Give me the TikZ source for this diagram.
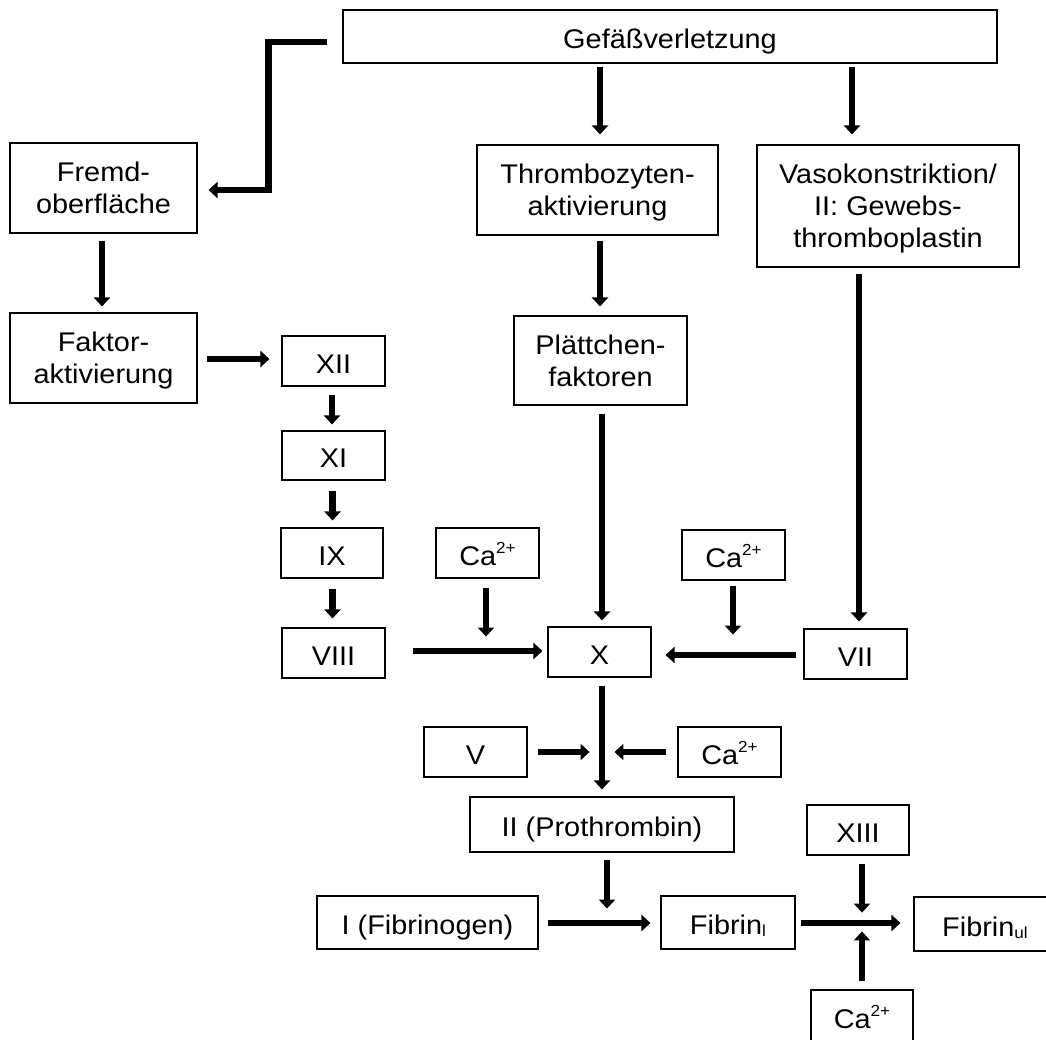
\documentclass[tikz,border=0pt]{standalone}
\usepackage{fontspec}
\setmainfont{Liberation Sans}[FakeStretch=1.07]
\usetikzlibrary{arrows.meta,calc}
\newcommand\supca{\raisebox{0.42em}{\fontsize{16}{16}\selectfont 2+}}
\newcommand\subsc[1]{\raisebox{-0.08em}{\fontsize{16}{16}\selectfont #1}}
\newcommand\nodp[1]{\raisebox{0pt}[\height][0pt]{#1}}
\begin{document}
\begin{tikzpicture}[x=1pt,y=-1pt,
  box/.style={draw=black, line width=1.1pt, inner sep=0pt, align=center, font=\fontsize{27}{32}\selectfont},
  sline/.style={text height=24pt, text depth=0pt},
  arr/.style={line width=6.5pt, -{Triangle[width=16pt,length=9pt]}}
]
\useasboundingbox (0,0) rectangle (1046,1039);
% nodes
\node[box,sline,minimum width=654pt,minimum height=53pt] (gef) at (670,36.5) {Gefäßverletzung};
\node[box,minimum width=187pt,minimum height=90pt] (fremd) at (103.5,188) {Fremd-\\oberfläche};
\node[box,minimum width=241pt,minimum height=90pt] (thrombo) at (597.5,190) {Thrombozyten-\\\nodp{aktivierung}};
\node[box,minimum width=262pt,minimum height=122pt] (vaso) at (888,206) {Vasokonstriktion/\\II: Gewebs-\\\nodp{thromboplastin}};
\node[box,minimum width=187pt,minimum height=90pt] (faktor) at (103.5,358) {Faktor-\\\nodp{aktivierung}};
\node[box,minimum width=173pt,minimum height=89pt] (plaett) at (600.5,360.5) {Plättchen-\\faktoren};
\node[box,sline,minimum width=103pt,minimum height=50pt] (xii) at (333.5,361) {XII};
\node[box,sline,minimum width=103pt,minimum height=49pt] (xi) at (333.5,455.5) {XI};
\node[box,sline,minimum width=102pt,minimum height=50pt] (ix) at (332,553) {IX};
\node[box,sline,minimum width=103pt,minimum height=50pt] (viii) at (333.5,653) {VIII};
\node[box,sline,minimum width=103pt,minimum height=50pt] (caL) at (487.5,553) {Ca\supca};
\node[box,sline,minimum width=103pt,minimum height=50pt] (x) at (599.5,652) {X};
\node[box,sline,minimum width=103pt,minimum height=50pt] (caR) at (733.5,555) {Ca\supca};
\node[box,sline,minimum width=103pt,minimum height=50pt] (vii) at (855.5,654) {VII};
\node[box,sline,minimum width=103pt,minimum height=50pt] (v) at (475.5,752) {V};
\node[box,sline,minimum width=103pt,minimum height=50pt] (caV) at (729.5,752) {Ca\supca};
\node[box,sline,minimum width=264pt,minimum height=55pt] (proth) at (602,824.5) {II (Prothrombin)};
\node[box,sline,minimum width=221pt,minimum height=53pt] (fibrinogen) at (427.5,922.5) {I (Fibrinogen)};
\node[box,sline,minimum width=134pt,minimum height=53pt] (fibl) at (728,922.5) {Fibrin\subsc{l}};
\node[box,sline,minimum width=142pt,minimum height=54pt] (fibul) at (985,924) {Fibrin\subsc{ul}};
\node[box,sline,minimum width=102pt,minimum height=50pt] (xiii) at (858,830) {XIII};
\node[box,sline,minimum width=102pt,minimum height=52pt] (caB) at (862,1016) {Ca\supca};
% free ends
\coordinate (jL) at ($(caL.south)+(-1.5,58)$);
\coordinate (jR) at ($(caR.south)+(-0.5,54)$);
\coordinate (jV) at ($(v.east)+(62,0)$);
\coordinate (jC) at ($(caV.west)+(-63,0)$);
\coordinate (jP) at ($(proth.south)+(5,56)$);
\coordinate (jX) at ($(xiii.south)+(4,57)$);
\coordinate (jB) at ($(caB.north)+(0,-58)$);
% arrows
\draw[arr] ($(gef.south -| thrombo.north)+(2.5,3)$) -- ($(thrombo.north)+(2.5,-10)$);
\draw[arr] ($(gef.south -| vaso.north)+(-36,3)$) -- ($(vaso.north)+(-36,-10)$);
\draw[arr,line join=miter] ($(gef.west)+(-15,5.5)$) -| ($(fremd.east)+(71,2)$) -- ($(fremd.east)+(11,2)$);
\draw[arr] ($(fremd.south)+(-1.5,7)$) -- ($(faktor.north)+(-1.5,-6)$);
\draw[arr] ($(thrombo.south)+(2.5,5)$) -- ($(plaett.north)+(-0.5,-9)$);
\draw[arr] ($(vaso.south)+(-29,6)$) -- ($(vii.north)+(3.5,-7)$);
\draw[arr] ($(faktor.east)+(9,1)$) -- ($(xii.west)+(-12,-2)$);
\draw[arr] ($(xii.south)+(-1.5,8)$) -- ($(xi.north)+(-1.5,-6)$);
\draw[arr] ($(xi.south)+(-1,10)$) -- ($(ix.north)+(0.5,-7)$);
\draw[arr] ($(ix.south)+(0.5,10)$) -- ($(viii.north)+(-1,-9)$);
\draw[arr] ($(plaett.south)+(1.5,8)$) -- ($(x.north)+(2.5,-6)$);
\draw[arr] ($(viii.east)+(27,-2)$) -- ($(x.west)+(-5,-1)$);
\draw[arr] ($(caL.south)+(-1.5,9)$) -- (jL);
\draw[arr] ($(caR.south)+(-0.5,5)$) -- (jR);
\draw[arr] ($(vii.west)+(-7,1)$) -- ($(x.east)+(14,3)$);
\draw[arr] ($(x.south)+(2.5,8)$) -- ($(proth.north)+(0,-7)$);
\draw[arr] ($(v.east)+(10,0)$) -- (jV);
\draw[arr] ($(caV.west)+(-11,0)$) -- (jC);
\draw[arr] ($(proth.south)+(5,7)$) -- (jP);
\draw[arr] ($(fibrinogen.east)+(9,0.5)$) -- ($(fibl.west)+(-10,0.5)$);
\draw[arr] ($(fibl.east)+(5,0.5)$) -- ($(fibul.west)+(-13,-1)$);
\draw[arr] ($(xiii.south)+(4,8)$) -- (jX);
\draw[arr] ($(caB.north)+(0,-8)$) -- (jB);
\end{tikzpicture}
\end{document}
